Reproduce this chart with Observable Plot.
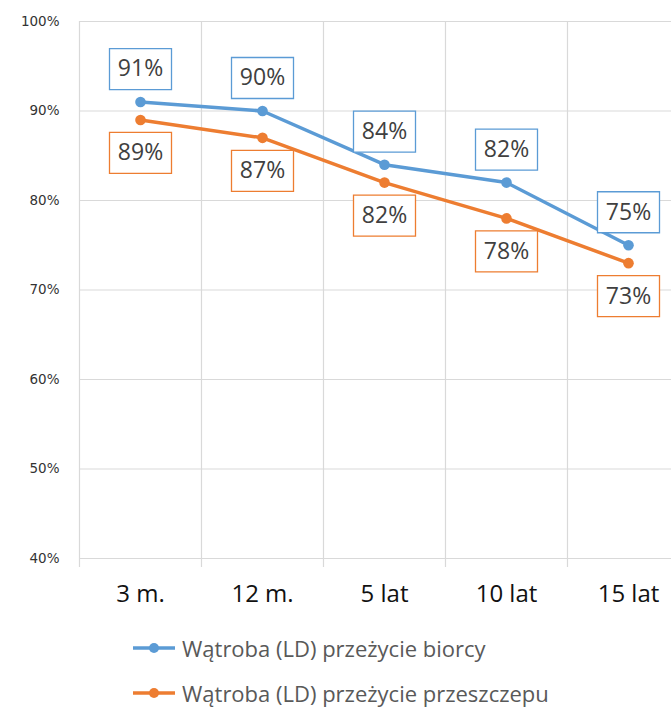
<!DOCTYPE html>
<html>
<head>
<meta charset="utf-8">
<script src="https://cdn.jsdelivr.net/npm/d3@7"></script>
<script src="https://cdn.jsdelivr.net/npm/@observablehq/plot@0.6"></script>
<style>
  html, body { margin: 0; padding: 0; background: #fff; overflow: hidden; width: 671px; height: 709px; }
  #chart svg { max-width: none !important; display: block; }
  .legend { font-family: "Open Sans", sans-serif; font-size: 22px; line-height: 30px; color: #595959; margin-left: 132px; }
  .legend .row { display: flex; align-items: center; height: 45px; }
  .legend svg { margin-right: 6px; }
</style>
</head>
<body>
<div id="chart"></div>
<div class="legend" id="legend"></div>
<script>
const categories = ["3 m.", "12 m.", "5 lat", "10 lat", "15 lat"];
const recipientSurvival = [0.91, 0.90, 0.84, 0.82, 0.75];
const graftSurvival = [0.89, 0.87, 0.82, 0.78, 0.73];
const seriesNames = ["Wątroba (LD) przeżycie biorcy", "Wątroba (LD) przeżycie przeszczepu"];
const seriesColors = ["#5b9bd5", "#ed7d31"];
const yTicks = [0.4, 0.5, 0.6, 0.7, 0.8, 0.9, 1.0];

const seriesValues = [recipientSurvival, graftSurvival];
const rows = [];
seriesValues.forEach((vals, s) => {
  vals.forEach((v, i) => rows.push({series: seriesNames[s], cat: categories[i], pos: i + 0.5, value: v, s}));
});
const blue = rows.filter(d => d.s === 0);
const orange = rows.filter(d => d.s === 1);
const bandEdges = d3.range(categories.length + 1);
const catPositions = categories.map((c, i) => i + 0.5);
const pct = d3.format(".0%");

const boxSymbol = {
  draw(ctx) { ctx.rect(-31, -20.5, 62, 41); }
};

const chart = Plot.plot({
  width: 690,
  height: 615,
  marginLeft: 79,
  marginRight: 1,
  marginTop: 21,
  marginBottom: 57,
  style: {fontFamily: "Open Sans, sans-serif", background: "white", maxWidth: "none"},
  x: {type: "linear", domain: [0, categories.length]},
  y: {domain: [0.4, 1.0]},
  marks: [
    Plot.ruleY(yTicks, {stroke: "#d9d9d9", strokeWidth: 1.2}),
    Plot.ruleX(bandEdges, {stroke: "#d9d9d9", strokeWidth: 1.2, insetBottom: -9}),
    Plot.axisY(yTicks, {tickFormat: pct, tickSize: 0, tickPadding: 20, fontSize: 13.5, fontFamily: "DejaVu Sans, sans-serif", fill: "#333", label: null}),
    Plot.axisX(catPositions, {tickFormat: (d, i) => categories[i], tickSize: 0, tickPadding: 26, fontSize: 24, fill: "#111", label: null}),
    Plot.line(rows, {x: "pos", y: "value", z: "series", stroke: d => seriesColors[d.s], strokeWidth: 3.5}),
    Plot.dot(rows, {x: "pos", y: "value", r: 5.3, fill: d => seriesColors[d.s], stroke: "none"}),
    Plot.dot(blue, {x: "pos", y: "value", dy: -33, r: 1, symbol: boxSymbol, fill: "white", stroke: seriesColors[0], strokeWidth: 1.3}),
    Plot.dot(orange, {x: "pos", y: "value", dy: 33, r: 1, symbol: boxSymbol, fill: "white", stroke: seriesColors[1], strokeWidth: 1.3}),
    Plot.text(blue, {x: "pos", y: "value", dy: -33, text: d => pct(d.value), fontSize: 23, fill: "#404040"}),
    Plot.text(orange, {x: "pos", y: "value", dy: 33, text: d => pct(d.value), fontSize: 23, fill: "#404040"})
  ]
});
document.getElementById("chart").appendChild(chart);

const legend = document.getElementById("legend");
seriesNames.forEach((name, s) => {
  const row = document.createElement("div");
  row.className = "row";
  row.innerHTML = `<svg width="44" height="14"><line x1="1" x2="43" y1="7" y2="7" stroke="${seriesColors[s]}" stroke-width="3.5"/><circle cx="22" cy="7" r="5" fill="${seriesColors[s]}"/></svg><span>${name}</span>`;
  legend.appendChild(row);
});
legend.style.marginTop = "10px";
</script>
</body>
</html>
